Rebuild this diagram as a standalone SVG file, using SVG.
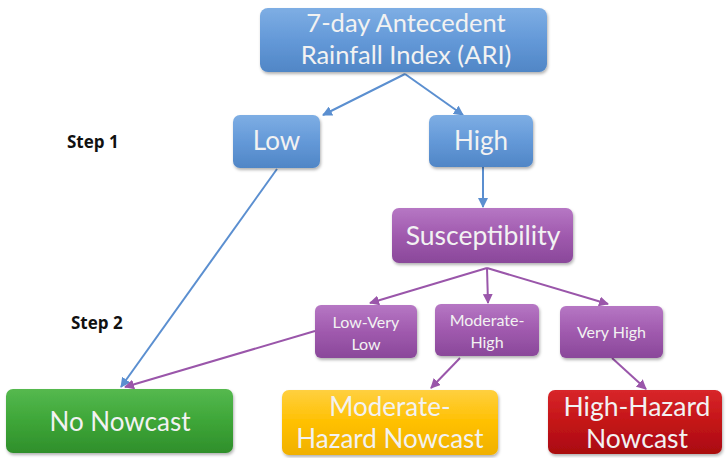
<svg xmlns="http://www.w3.org/2000/svg" width="726" height="458" viewBox="0 0 726 458">
<defs>
<linearGradient id="gBlue" x1="0" y1="0" x2="0" y2="1"><stop offset="0" stop-color="#7eaee4"/><stop offset="0.5" stop-color="#6499d8"/><stop offset="1" stop-color="#5086c6"/></linearGradient>
<linearGradient id="gPurple" x1="0" y1="0" x2="0" y2="1"><stop offset="0" stop-color="#b677c4"/><stop offset="0.5" stop-color="#a05aae"/><stop offset="1" stop-color="#8a489a"/></linearGradient>
<linearGradient id="gGreen" x1="0" y1="0" x2="0" y2="1"><stop offset="0" stop-color="#55b94f"/><stop offset="0.5" stop-color="#3ea638"/><stop offset="1" stop-color="#2f8f2b"/></linearGradient>
<linearGradient id="gYellow" x1="0" y1="0" x2="0" y2="1"><stop offset="0" stop-color="#ffd040"/><stop offset="0.5" stop-color="#ffc000"/><stop offset="1" stop-color="#f0b000"/></linearGradient>
<linearGradient id="gRed" x1="0" y1="0" x2="0" y2="1"><stop offset="0" stop-color="#d8262a"/><stop offset="0.5" stop-color="#c41418"/><stop offset="1" stop-color="#a90c10"/></linearGradient>
<filter id="sh" x="-10%" y="-10%" width="130%" height="140%"><feDropShadow dx="1" dy="2" stdDeviation="1.5" flood-color="#000" flood-opacity="0.3"/></filter>
<marker id="aB" viewBox="0 0 10 10" refX="9" refY="5" markerWidth="5" markerHeight="5" orient="auto"><path d="M0,0 L10,5 L0,10 z" fill="#5b8fd0"/></marker>
<marker id="aP" viewBox="0 0 10 10" refX="9" refY="5" markerWidth="5" markerHeight="5" orient="auto"><path d="M0,0 L10,5 L0,10 z" fill="#9a56aa"/></marker>
</defs>
<style>
.box{filter:url(#sh)}
.t{font-family:Lato,"Open Sans",sans-serif;fill:#f2f2f2;text-anchor:middle}
.step{font-family:"Open Sans","Liberation Sans",sans-serif;font-weight:bold;font-size:17px;fill:#111}
.cb{stroke:#5b8fd0;stroke-width:2;fill:none;marker-end:url(#aB)}
.cp{stroke:#9a56aa;stroke-width:2;fill:none;marker-end:url(#aP)}
</style>
<rect width="726" height="458" fill="#ffffff"/>
<text class="step" x="67" y="148">Step 1</text>
<text class="step" x="71" y="329">Step 2</text>
<g id="connectors">
<line class="cb" x1="405" y1="74" x2="323" y2="115"/>
<line class="cb" x1="405" y1="74" x2="463" y2="115"/>
<line class="cb" x1="483" y1="167" x2="483" y2="207"/>
<line class="cb" x1="277" y1="169" x2="121" y2="387"/>
<line class="cp" x1="487" y1="268" x2="370" y2="303"/>
<line class="cp" x1="487" y1="268" x2="488" y2="303"/>
<line class="cp" x1="487" y1="268" x2="608" y2="304"/>
<line class="cp" x1="315" y1="331" x2="125" y2="387"/>
<line class="cp" x1="460" y1="358" x2="431" y2="388"/>
<line class="cp" x1="612" y1="358" x2="646" y2="389"/>
</g>
<g id="ari"><rect class="box" x="260" y="8" width="287" height="64" rx="8" fill="url(#gBlue)"/>
<text class="t" x="406" y="32" font-size="25.5">7-day Antecedent</text>
<text class="t" x="406" y="64" font-size="25.5">Rainfall Index (ARI)</text></g>
<g id="low"><rect class="box" x="233" y="115" width="87" height="53" rx="7" fill="url(#gBlue)"/>
<text class="t" x="276.5" y="150" font-size="26">Low</text></g>
<g id="high"><rect class="box" x="429" y="115" width="104" height="52" rx="7" fill="url(#gBlue)"/>
<text class="t" x="481" y="150" font-size="26">High</text></g>
<g id="susceptibility"><rect class="box" x="392" y="208" width="181" height="55" rx="7" fill="url(#gPurple)"/>
<text class="t" x="483" y="245" font-size="26.5">Susceptibility</text></g>
<g id="lowverylow"><rect class="box" x="315" y="305" width="102" height="53" rx="6" fill="url(#gPurple)"/>
<text class="t" x="366" y="328" font-size="16">Low-Very</text>
<text class="t" x="366" y="350" font-size="16">Low</text></g>
<g id="moderatehigh"><rect class="box" x="435" y="304" width="104" height="52" rx="6" fill="url(#gPurple)"/>
<text class="t" x="487" y="326" font-size="16">Moderate-</text>
<text class="t" x="487" y="348" font-size="16">High</text></g>
<g id="veryhigh"><rect class="box" x="560" y="306" width="103" height="52" rx="6" fill="url(#gPurple)"/>
<text class="t" x="611.5" y="338" font-size="16">Very High</text></g>
<g id="nonowcast"><rect class="box" x="6" y="389" width="227" height="64" rx="7" fill="url(#gGreen)"/>
<text class="t" x="120" y="431" font-size="26">No Nowcast</text></g>
<g id="moderatehazard"><rect class="box" x="282" y="390" width="216" height="65" rx="7" fill="url(#gYellow)"/>
<text class="t" x="390" y="416" font-size="26">Moderate-</text>
<text class="t" x="390" y="448" font-size="26">Hazard Nowcast</text></g>
<g id="highhazard"><rect class="box" x="548" y="390" width="174" height="64" rx="7" fill="url(#gRed)"/>
<text class="t" x="637" y="416" font-size="26.5">High-Hazard</text>
<text class="t" x="637" y="448" font-size="26.5">Nowcast</text></g>
</svg>
